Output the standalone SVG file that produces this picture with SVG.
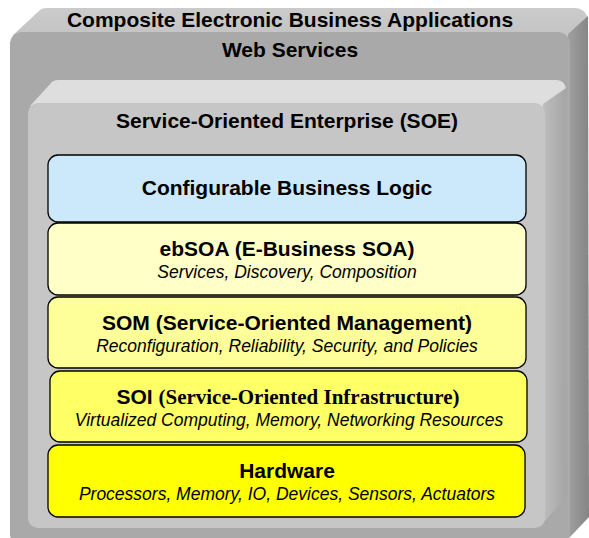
<svg xmlns="http://www.w3.org/2000/svg" width="589" height="538" viewBox="0 0 589 538">
  <defs>
    <linearGradient id="outerSide" x1="0" y1="0" x2="1" y2="0">
      <stop offset="0" stop-color="#a0a0a0"/>
      <stop offset="1" stop-color="#858585"/>
    </linearGradient>
    <linearGradient id="innerSide" x1="0" y1="0" x2="1" y2="0">
      <stop offset="0" stop-color="#bdbdbd"/>
      <stop offset="1" stop-color="#a5a5a5"/>
    </linearGradient>
    <linearGradient id="outerTop" x1="0" y1="0" x2="0" y2="1">
      <stop offset="0" stop-color="#cbcbcb"/>
      <stop offset="1" stop-color="#c2c2c2"/>
    </linearGradient>
  </defs>
  <style>
    .title { font-family: "Liberation Sans", Arial, sans-serif; font-weight: bold; fill: #000; text-anchor: middle; }
    .sub { font-family: "Liberation Sans", Arial, sans-serif; font-style: italic; font-size: 17.5px; fill: #000; text-anchor: middle; }
    .serif { font-family: "Liberation Serif", "Times New Roman", serif; font-weight: bold; }
    .layer { stroke: #000; stroke-width: 1.3; }
  </style>

  <!-- Outer block: Composite Electronic Business Applications / Web Services -->
  <g id="web-services">
    <path d="M12,36 L40,10 Q42,8 47,8 L574,8 Q586,8 588,20 L570,42 Z" fill="url(#outerTop)"/>
    <path d="M568,34 L588,16 L589,517 L570,537 L568,537 Z" fill="url(#outerSide)"/>
    <rect x="10" y="32" width="560" height="514" rx="12" fill="#a9a9a9"/>
    <text class="title" x="290" y="27" font-size="21">Composite Electronic Business Applications</text>
    <text class="title" x="290" y="57" font-size="21">Web Services</text>
  </g>

  <!-- Inner block: Service-Oriented Enterprise -->
  <g id="soe">
    <path d="M30,106 L52,82 Q54,80 58,80 L556,80 Q566,80 566,92 L545,114 Z" fill="#dedede"/>
    <path d="M543,104 L566,88 L567,496 L545,521 L543,521 Z" fill="url(#innerSide)"/>
    <rect x="28" y="103" width="517" height="425" rx="10" fill="#c6c6c6"/>
    <text class="title" x="287" y="128" font-size="21">Service-Oriented Enterprise (SOE)</text>
  </g>

  <!-- Stacked layers -->
  <g id="business-logic">
    <rect class="layer" x="48" y="155" width="478" height="67" rx="10" fill="#cce9fb"/>
    <text class="title" x="287" y="195" font-size="21">Configurable Business Logic</text>
  </g>

  <g id="ebsoa">
    <rect class="layer" x="48" y="223" width="478" height="72" rx="10" fill="#ffffc8"/>
    <text class="title" x="287" y="256" font-size="21">ebSOA (E-Business SOA)</text>
    <text class="sub" x="287" y="278">Services, Discovery, Composition</text>
  </g>

  <g id="som">
    <rect class="layer" x="48" y="297" width="478" height="71" rx="10" fill="#ffff99"/>
    <text class="title" x="287" y="330" font-size="21">SOM (Service-Oriented Management)</text>
    <text class="sub" x="287" y="352">Reconfiguration, Reliability, Security, and Policies</text>
  </g>

  <g id="soi">
    <rect class="layer" x="50" y="371" width="477" height="71" rx="10" fill="#ffff66"/>
    <text class="title" x="288" y="404" font-size="21">SOI <tspan class="serif">(Service-Oriented Infrastructure)</tspan></text>
    <text class="sub" x="289" y="426">Virtualized Computing, Memory, Networking Resources</text>
  </g>

  <g id="hardware">
    <rect class="layer" x="48" y="445" width="477" height="72" rx="10" fill="#ffff00"/>
    <text class="title" x="287" y="478" font-size="21">Hardware</text>
    <text class="sub" x="287" y="500">Processors, Memory, IO, Devices, Sensors, Actuators</text>
  </g>

  <g id="connectors"/>
</svg>
